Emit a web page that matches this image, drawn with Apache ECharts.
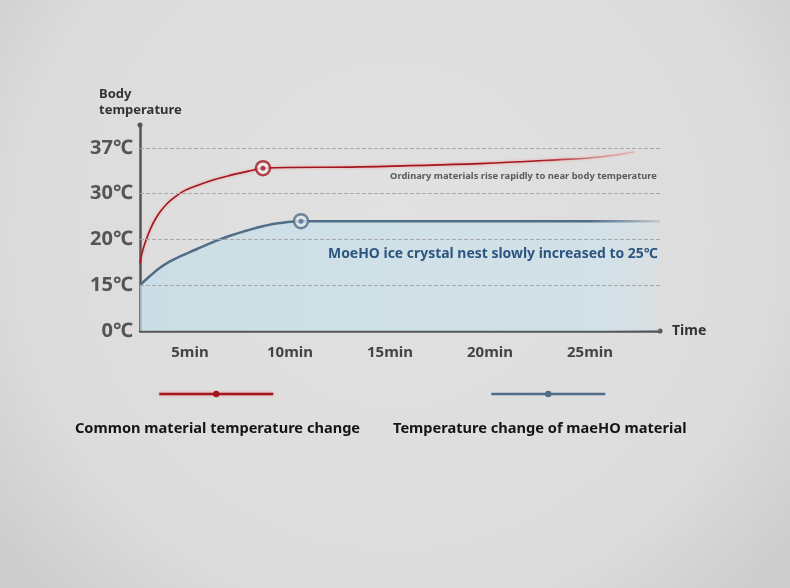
<!DOCTYPE html>
<html>
<head>
<meta charset="utf-8">
<script src="https://cdn.jsdelivr.net/npm/echarts@6/dist/echarts.min.js"></script>
<style>
  html, body { margin: 0; padding: 0; }
  #box { width: 790px; height: 588px; }
</style>
</head>
<body>
<div id="box"></div>
<script>
// y axis is not linear: each label sits one step apart
var tempTicks = [0, 15, 20, 30, 37];
var timeTicks = [5, 10, 15, 20, 25];

// common material (red)
var redTime = [2.5, 2.6, 2.75, 3.0, 3.25, 3.5, 3.85, 4.25, 4.75, 5.4, 6.15, 7.0, 8.0, 8.65, 13.5, 19.5, 23.5, 25.5, 27.25];
var redTemp = [17.4, 18.5, 19.6, 22.1, 24.3, 26.0, 27.8, 29.3, 30.5, 31.3, 32.1, 32.8, 33.5, 33.9, 34.1, 34.6, 35.2, 35.6, 36.4];
// moeHO material (blue)
var blueTime = [2.5, 3.0, 3.5, 4.0, 4.5, 5.3, 6.15, 7.0, 7.85, 8.7, 9.5, 10.55, 20, 28.5];
var blueTemp = [15, 16.0, 16.9, 17.6, 18.15, 18.9, 19.7, 20.8, 21.95, 22.95, 23.6, 24.0, 24.0, 24.0];
// ring markers (index into the arrays above)
var redMarkIdx = 13;
var blueMarkIdx = 11;

var redName = 'Common material temperature change';
var blueName = 'Temperature change of maeHO material';

// temperature -> step position on the y axis
function toLevel(t) {
    for (var i = 0; i < tempTicks.length - 1; i++) {
        if (t <= tempTicks[i + 1]) {
            return i + (t - tempTicks[i]) / (tempTicks[i + 1] - tempTicks[i]);
        }
    }
    return tempTicks.length - 1;
}
function pairs(xs, ys) {
    return xs.map(function (x, i) { return [x, toLevel(ys[i])]; });
}

var RED = '#a3161f';
var BLUE = '#4f6d87';

var chart = echarts.init(document.getElementById('box'));
var option = {
    backgroundColor: new echarts.graphic.RadialGradient(0.5, 0.4, 0.85, [
        {offset: 0, color: '#e1e1e1'},
        {offset: 0.75, color: '#dcdcdc'},
        {offset: 1, color: '#cdcdcd'}
    ]),
    animation: false,
    grid: {left: 140, right: 130, top: 125, bottom: 257},
    xAxis: {
        type: 'value',
        min: 2.5,
        max: 28.5,
        name: 'Time',
        nameGap: 12,
        nameTextStyle: {fontFamily: 'Noto Sans', fontWeight: 'bold', fontSize: 14, color: '#333', verticalAlign: 'middle'},
        axisLine: {show: true, symbol: ['none', 'circle'], symbolSize: [5, 5], lineStyle: {color: '#555', width: 2.5}},
        axisTick: {show: false},
        splitLine: {show: false},
        axisLabel: {
            customValues: timeTicks,
            margin: 14,
            formatter: function (v) { return v + 'min'; },
            fontFamily: 'Noto Sans', fontWeight: 'bold', fontSize: 15, color: '#444'
        }
    },
    yAxis: {
        type: 'value',
        min: 0,
        max: 4.5,
        axisLine: {show: true, symbol: ['none', 'circle'], symbolSize: [5, 5], lineStyle: {color: '#555', width: 2.5}},
        axisTick: {show: false},
        splitLine: {show: false},
        axisLabel: {
            customValues: [0, 1, 2, 3, 4],
            margin: 7,
            formatter: function (v) { return tempTicks[v] + '℃'; },
            fontFamily: 'Noto Sans', fontWeight: 'bold', fontSize: 20, color: '#555'
        }
    },
    legend: [
        {
            data: [redName], left: 153, top: 385, itemWidth: 114, itemHeight: 8, itemGap: 0,
            selectedMode: false, formatter: function () { return ''; }, textStyle: {fontSize: 1},
            lineStyle: {color: RED, width: 2.5, shadowColor: 'rgba(255,80,80,0.5)', shadowBlur: 3},
            itemStyle: {color: RED}
        },
        {
            data: [blueName], left: 485, top: 385, itemWidth: 114, itemHeight: 8, itemGap: 0,
            selectedMode: false, formatter: function () { return ''; }, textStyle: {fontSize: 1},
            lineStyle: {color: BLUE, width: 2.5},
            itemStyle: {color: BLUE}
        }
    ],
    graphic: [
        {type: 'text', z: 100, left: 99, top: 86, style: {text: 'Body\ntemperature', fontFamily: 'Noto Sans', fontWeight: 'bold', fontSize: 13, lineHeight: 16, fill: '#333'}},
        {type: 'text', z: 100, left: 390, top: 172, style: {text: 'Ordinary materials rise rapidly to near body temperature', fontFamily: 'Noto Sans', fontWeight: 'bold', fontSize: 9.4, fill: '#5a5a5a'}},
        {type: 'text', z: 100, left: 328, top: 247, style: {text: 'MoeHO ice crystal nest slowly increased to 25℃', fontFamily: 'Noto Sans', fontWeight: 'bold', fontSize: 13.95, fill: '#2c5681'}},
        {type: 'text', z: 100, left: 75, top: 421, style: {text: redName, fontFamily: 'Noto Sans', fontWeight: 'bold', fontSize: 14.6, fill: '#151515'}},
        {type: 'text', z: 100, left: 393, top: 421, style: {text: blueName, fontFamily: 'Noto Sans', fontWeight: 'bold', fontSize: 14.6, fill: '#151515'}}
    ],
    series: [
        {
            name: blueName,
            type: 'line',
            data: pairs(blueTime, blueTemp),
            smooth: 0.5,
            symbol: 'circle',
            symbolSize: 7,
            showSymbol: false,
            itemStyle: {color: BLUE},
            lineStyle: {
                width: 2.5,
                color: new echarts.graphic.LinearGradient(0, 0, 1, 0, [
                    {offset: 0, color: BLUE},
                    {offset: 0.86, color: BLUE},
                    {offset: 1, color: 'rgba(79,109,135,0.15)'}
                ])
            },
            areaStyle: {
                color: new echarts.graphic.LinearGradient(0, 0, 1, 0, [
                    {offset: 0, color: '#c4dde8'},
                    {offset: 0.9, color: '#cde2eb'},
                    {offset: 1, color: 'rgba(205,226,235,0.3)'}
                ])
            },
            markLine: {
                silent: true,
                symbol: 'none',
                label: {show: false},
                lineStyle: {type: 'dashed', color: '#a8a8a8', width: 1},
                data: tempTicks.slice(1).map(function (t) { return {yAxis: toLevel(t)}; })
            },
            z: 2
        },
        {
            name: redName,
            type: 'line',
            data: pairs(redTime, redTemp),
            smooth: 0.4,
            symbol: 'circle',
            symbolSize: 7,
            showSymbol: false,
            itemStyle: {color: RED},
            lineStyle: {
                width: 1.6,
                shadowColor: 'rgba(255,80,80,0.5)',
                shadowBlur: 3,
                color: new echarts.graphic.LinearGradient(0, 0, 1, 0, [
                    {offset: 0, color: RED},
                    {offset: 0.8, color: RED},
                    {offset: 1, color: 'rgba(220,120,120,0.3)'}
                ])
            },
            z: 3
        },
        // ring markers: outer ring then center dot
        {
            type: 'scatter',
            symbolSize: 14,
            itemStyle: {color: '#f2f2f2', borderColor: RED, borderWidth: 2.5},
            data: [[redTime[redMarkIdx], toLevel(redTemp[redMarkIdx])]],
            z: 5
        },
        {
            type: 'scatter',
            symbolSize: 5,
            itemStyle: {color: RED},
            data: [[redTime[redMarkIdx], toLevel(redTemp[redMarkIdx])]],
            z: 6
        },
        {
            type: 'scatter',
            symbolSize: 14,
            itemStyle: {color: '#dde6ec', borderColor: BLUE, borderWidth: 2.5},
            data: [[blueTime[blueMarkIdx], toLevel(blueTemp[blueMarkIdx])]],
            z: 5
        },
        {
            type: 'scatter',
            symbolSize: 5,
            itemStyle: {color: BLUE},
            data: [[blueTime[blueMarkIdx], toLevel(blueTemp[blueMarkIdx])]],
            z: 6
        }
    ]
};
chart.setOption(option);
</script>
</body>
</html>
